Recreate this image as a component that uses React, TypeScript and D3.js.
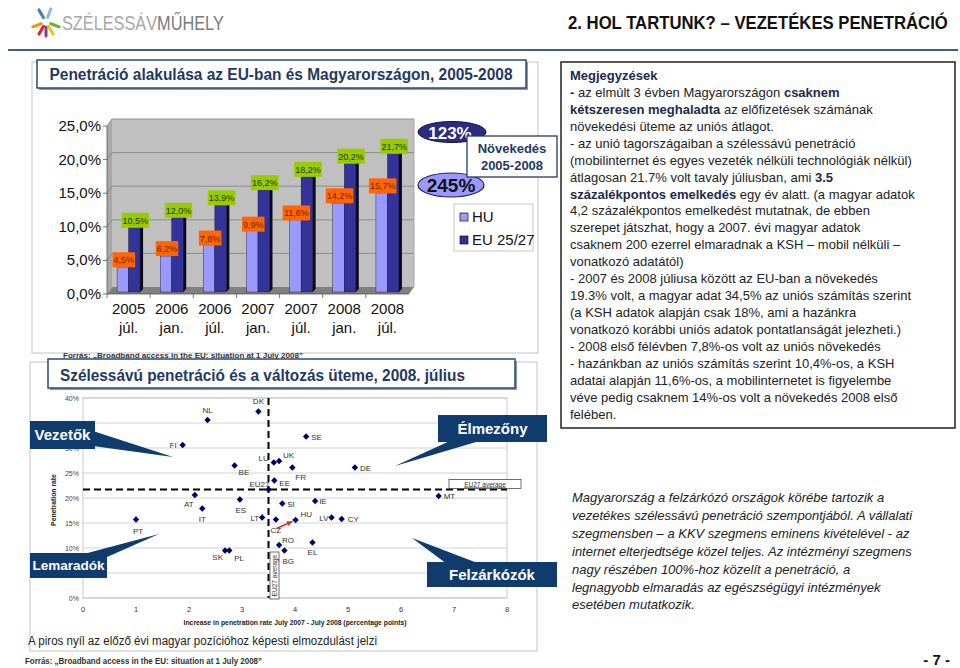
import * as d3 from "d3";

const FONT = "'Liberation Sans', Arial, Helvetica, sans-serif";
const NARROW = "'Liberation Sans Narrow', 'Arial Narrow', 'Liberation Sans', Arial, sans-serif";
const NAVY = "#0f3c6c";

// --- upper chart: penetration HU vs EU 2005-2008 ---
const PERIODS = ["2005 júl.", "2006 jan.", "2006 júl.", "2007 jan.", "2007 júl.", "2008 jan.", "2008 júl."];
const HU_RATE = [4.5, 6.2, 7.8, 9.9, 11.6, 14.2, 15.7];
const EU_RATE = [10.5, 12.0, 13.9, 16.2, 18.2, 20.2, 21.7];
const RATE_TICKS = [0, 5, 10, 15, 20, 25];
const GROWTH_EU = "123%";
const GROWTH_HU = "245%";
const SERIES = ["HU", "EU 25/27"];

// --- scatter: penetration July 2008 vs increase July 2007 - July 2008 ---
const COUNTRIES = ["DK", "NL", "FI", "LU", "UK", "BE", "FR", "EE", "EU27", "SE", "DE", "MT", "IE", "SI", "AT", "ES", "IT", "PT", "LT", "CZ", "HU", "RO", "BG", "SK", "PL", "LV", "CY", "EL"];
const INCREASE = [3.31, 2.35, 1.88, 3.6, 3.7, 2.86, 3.95, 3.61, 3.5, 4.21, 5.13, 6.71, 4.38, 3.76, 2.11, 2.96, 2.25, 1.0, 3.38, 3.64, 4.01, 3.7, 3.8, 2.68, 2.76, 4.69, 4.88, 4.33];
const PENETRATION = [37.3, 35.6, 30.6, 27.1, 27.4, 26.5, 26.1, 23.5, 21.7, 32.3, 26.1, 20.4, 19.4, 18.9, 20.6, 19.7, 17.9, 15.7, 16.1, 15.7, 15.6, 10.6, 9.5, 9.5, 9.5, 16.1, 15.8, 11.1];
const HU_PREVIOUS = [3.65, 13.9]; // tail of the red arrow
const EU27_INCREASE = 3.5;
const EU27_PENETRATION = 21.7;
const INCREASE_TICKS = [0, 1, 2, 3, 4, 5, 6, 7, 8];
const PENETRATION_TICKS = [0, 5, 10, 15, 20, 25, 30, 35, 40];
const HIDDEN_TICKS = [5, 35]; // covered by the callout boxes

// label placement next to each point: dx, dy, anchor
const LABEL_PLACE: Record<string, [number, number, string]> = {
  DK: [0, -8, "middle"], NL: [0, -7, "middle"], FI: [-6, 3, "end"], LU: [-5, -2, "end"],
  UK: [4, -3, "start"], BE: [4, 9, "start"], FR: [3, 12, "start"], EE: [5, 5, "start"],
  EU27: [1, -3, "end"], SE: [5, 3, "start"], DE: [5, 3, "start"], MT: [5, 3, "start"],
  IE: [4, 3, "start"], SI: [5, 3, "start"], AT: [-6, 12, "middle"], ES: [1, 13, "middle"],
  IT: [0, 13, "middle"], PT: [2, 14, "middle"], LT: [-3, 3, "end"], CZ: [0, 13, "middle"],
  HU: [5, -3, "start"], RO: [3, -2, "start"], BG: [-2, 13, "start"], SK: [-2, 9, "end"],
  PL: [5, 10, "start"], LV: [-3, 3, "end"], CY: [6, 3, "start"], EL: [0, 12, "middle"],
};

// --- notes on the right ---
const NOTES: [string, boolean][][] = [
  [["Megjegyzések", true]],
  [["-", true], [" az elmúlt 3 évben Magyarországon ", false], ["csaknem", true]],
  [["kétszeresen meghaladta", true], [" az előfizetések számának", false]],
  [["növekedési üteme az uniós átlagot.", false]],
  [["- az unió tagországaiban a szélessávú penetráció", false]],
  [["(mobilinternet és egyes vezeték nélküli technológiák nélkül)", false]],
  [["átlagosan 21.7% volt tavaly júliusban, ami ", false], ["3.5", true]],
  [["százalékpontos emelkedés", true], [" egy év alatt. (a magyar adatok", false]],
  [["4,2 százalékpontos emelkedést mutatnak, de ebben", false]],
  [["szerepet játszhat, hogy a 2007. évi magyar adatok", false]],
  [["csaknem 200 ezerrel elmaradnak a KSH – mobil nélküli –", false]],
  [["vonatkozó adatától)", false]],
  [["- 2007 és 2008 júliusa között az EU-ban a növekedés", false]],
  [["19.3% volt, a magyar adat 34,5% az uniós számítás szerint", false]],
  [["(a KSH adatok alapján csak 18%, ami a hazánkra", false]],
  [["vonatkozó korábbi uniós adatok pontatlanságát jelezheti.)", false]],
  [["- 2008 első félévben 7,8%-os volt az uniós növekedés", false]],
  [["- hazánkban az uniós számítás szerint 10,4%-os, a KSH", false]],
  [["adatai alapján 11,6%-os, a mobilinternetet is figyelembe", false]],
  [["véve pedig csaknem 14%-os volt a növekedés 2008 első", false]],
  [["felében.", false]],
];

const SUMMARY = [
  "Magyarország a felzárkózó országok körébe tartozik a",
  "vezetékes szélessávú penetráció szempontjából. A vállalati",
  "szegmensben – a KKV szegmens eminens kivételével - az",
  "internet elterjedtsége közel teljes. Az intézményi szegmens",
  "nagy részében 100%-hoz közelít a penetráció, a",
  "legnagyobb elmaradás az egészségügyi intézmények",
  "esetében mutatkozik.",
];

const SOURCE = "Forrás: „Broadband access in the EU: situation at 1 July 2008”";

const pct = (v: number) => v.toFixed(1).replace(".", ",") + "%";
const labelWidth = (s: string, fs: number) =>
  s.split("").reduce((a, ch) => a + (ch === "," ? 0.278 : ch === "%" ? 0.889 : 0.556), 0) * fs;

const Header = () => {
  const sticks = [
    { a: -120, c: "#3f7cc4" },
    { a: -70, c: "#8ab8e6" },
    { a: 160, c: "#f39200" },
    { a: 120, c: "#e2231a" },
    { a: 90, c: "#7b3f99" },
    { a: 60, c: "#f5c400" },
    { a: 20, c: "#66b032" },
  ];
  return (
    <g>
      <g transform="translate(46,22)">
        {sticks.map((s, i) => {
          const r = (s.a * Math.PI) / 180;
          return (
            <line key={i} x1={Math.cos(r) * 5} y1={Math.sin(r) * 5} x2={Math.cos(r) * 14} y2={Math.sin(r) * 14}
              stroke={s.c} strokeWidth={3} strokeLinecap="round" />
          );
        })}
      </g>
      {/* condensed lettering: scale the regular face horizontally */}
      <g transform="translate(62,30) scale(0.815,1)">
        <text x={0} y={0} fontFamily={FONT} fontSize={20}>
          <tspan fill="#a8a8a8">SZÉLESSÁV</tspan>
          <tspan fill="#7a7a7a">MŰHELY</tspan>
        </text>
      </g>
      <g transform="translate(568,29) scale(0.88,1)">
        <text x={0} y={0} fontFamily={FONT} fontSize={19} fontWeight="bold" fill="#111">
          2. HOL TARTUNK? – VEZETÉKES PENETRÁCIÓ
        </text>
      </g>
      <line x1={8} x2={958} y1={50} y2={50} stroke="#3d6186" strokeWidth={2} />
    </g>
  );
};

const BarChart = () => {
  const x = d3.scaleBand<string>().domain(PERIODS).range([107, 409]);
  const yFront = d3.scaleLinear().domain([0, 25]).range([294, 126]);
  const yBack = d3.scaleLinear().domain([0, 25]).range([287, 119]);
  const yBar = d3.scaleLinear().domain([0, 25]).range([297, 132]);
  const [xl, xr] = x.range();
  const DX = 5;
  const BAR_W = 11.5;
  const BAR_D = 3;
  const BASE = 292;

  const bar = (left: number, v: number, face: string, top: string, side: string) => {
    const yt = yBar(v);
    const r = left + BAR_W;
    return (
      <g>
        <rect x={left} y={yt} width={BAR_W} height={BASE - yt} fill={face} stroke="#111133" strokeWidth={0.4} />
        <polygon points={`${left},${yt} ${left + BAR_D},${yt - BAR_D} ${r + BAR_D},${yt - BAR_D} ${r},${yt}`} fill={top} />
        <polygon points={`${r},${yt} ${r + BAR_D},${yt - BAR_D} ${r + BAR_D},${BASE - BAR_D} ${r},${BASE}`} fill={side} />
      </g>
    );
  };

  const valueLabel = (cx: number, v: number, bg: string, fg: string) => {
    const s = pct(v);
    const w = labelWidth(s, 9) + 2;
    const yb = yBar(v);
    return (
      <g>
        <rect x={cx - w / 2} y={yb - 15} width={w} height={15} fill={bg} />
        <text x={cx} y={yb - 4} textAnchor="middle" fontSize={9} fontFamily={FONT} fill={fg}>{s}</text>
      </g>
    );
  };

  return (
    <g fontFamily={FONT}>
      {/* walls and floor */}
      <rect x={xl + DX} y={yBack(25)} width={xr - xl} height={yBack(0) - yBack(25)} fill="#c0c0c0" />
      <polygon points={`${xl},${yFront(0)} ${xl + DX},${yBack(0)} ${xl + DX},${yBack(25)} ${xl},${yFront(25)}`} fill="#a8a8a8" />
      {RATE_TICKS.slice(1).map((t) => (
        <g key={t}>
          <line x1={xl + DX} x2={xr + DX} y1={yBack(t)} y2={yBack(t)} stroke="#7f7f7f" strokeWidth={0.8} />
          <line x1={xl} x2={xl + DX} y1={yFront(t)} y2={yBack(t)} stroke="#7f7f7f" strokeWidth={0.8} />
        </g>
      ))}
      <line x1={xr + DX} x2={xr + DX} y1={yBack(25)} y2={yBack(0)} stroke="#9a9a9a" strokeWidth={0.8} />
      <polygon points={`${xl},${yFront(0)} ${xr},${yFront(0)} ${xr + DX},${yBack(0)} ${xl + DX},${yBack(0)}`} fill="#808080" />

      {/* bars */}
      {PERIODS.map((p, i) => {
        const c = (x(p) as number) + x.bandwidth() / 2;
        return (
          <g key={p}>
            {bar(c - BAR_W, HU_RATE[i], "#9999ff", "#b3b3ff", "#5050a0")}
            {bar(c, EU_RATE[i], "#333399", "#4848b0", "#0a0a1e")}
          </g>
        );
      })}
      {PERIODS.map((p, i) => {
        const c = (x(p) as number) + x.bandwidth() / 2;
        return (
          <g key={p}>
            {valueLabel(c - BAR_W / 2 + 1, HU_RATE[i], "#ff6600", "#6e2200")}
            {valueLabel(c + BAR_W / 2 + 1, EU_RATE[i], "#99cc00", "#263300")}
          </g>
        );
      })}

      {/* axes */}
      <line x1={xl} x2={xl} y1={yFront(25)} y2={yFront(0)} stroke="#555" strokeWidth={0.8} />
      <line x1={xl} x2={xr} y1={yFront(0)} y2={yFront(0)} stroke="#555" strokeWidth={0.8} />
      {RATE_TICKS.map((t) => (
        <g key={t}>
          <line x1={xl - 4} x2={xl} y1={yFront(t)} y2={yFront(t)} stroke="#555" strokeWidth={0.8} />
          <text x={xl - 6} y={yFront(t) + 5} textAnchor="end" fontSize={15} fill="#111">{pct(t)}</text>
        </g>
      ))}
      {PERIODS.map((p) => {
        const c = (x(p) as number) + x.bandwidth() / 2;
        const [yr, mo] = p.split(" ");
        return (
          <g key={p}>
            <line x1={x(p) as number} x2={x(p) as number} y1={yFront(0)} y2={yFront(0) + 4} stroke="#555" strokeWidth={0.8} />
            <text x={c} y={314} textAnchor="middle" fontSize={15} fill="#111">{yr}</text>
            <text x={c} y={333} textAnchor="middle" fontSize={15} fill="#111">{mo}</text>
          </g>
        );
      })}

      {/* growth ellipses */}
      <ellipse cx={452} cy={132} rx={34} ry={10.5} fill="#2b2b80" stroke="#111144" strokeWidth={1} />
      <text x={450} y={138.5} textAnchor="middle" fontSize={17} fontWeight="bold" fill="#fff">{GROWTH_EU}</text>
      <ellipse cx={451} cy={185} rx={33} ry={12} fill="#9999ff" stroke="#222255" strokeWidth={1.2} />
      <text x={451} y={192} textAnchor="middle" fontSize={19} fontWeight="bold" fill="#111">{GROWTH_HU}</text>
      <rect x={467} y={136} width={90} height={41} fill="#fff" stroke="#1f3864" strokeWidth={1.3} />
      <text x={512} y={153} textAnchor="middle" fontSize={13} fontWeight="bold" fill="#1f3864">Növekedés</text>
      <text x={512} y={170} textAnchor="middle" fontSize={13} fontWeight="bold" fill="#1f3864">2005-2008</text>

      {/* legend */}
      <rect x={454} y={204} width={79} height={47} fill="#fff" stroke="#c8c8c8" strokeWidth={1} />
      {SERIES.map((s, i) => (
        <g key={s}>
          <rect x={460} y={213 + i * 23} width={8} height={8} fill={i === 0 ? "#9999ff" : "#333399"} stroke="#111" strokeWidth={0.7} />
          <text x={472} y={222 + i * 23} fontSize={15} fill="#111">{s}</text>
        </g>
      ))}
    </g>
  );
};

const Callout = ({ x, y, w, h, label, tail, fs = 15 }: { x: number; y: number; w: number; h: number; label: string; tail: number[][]; fs?: number }) => (
  <g>
    <polygon points={tail.map((p) => p.join(",")).join(" ")} fill={NAVY} />
    <rect x={x} y={y} width={w} height={h} fill={NAVY} />
    <text x={x + w / 2} y={y + h / 2 + fs * 0.36} textAnchor="middle" fontSize={fs} fontWeight="bold" fill="#fff" fontFamily={FONT}>{label}</text>
  </g>
);

const Scatter = () => {
  const xS = d3.scaleLinear().domain([0, 8]).range([83, 507]);
  const yS = d3.scaleLinear().domain([0, 40]).range([598, 398]);
  const diamond = (cx: number, cy: number) => `${cx},${cy - 3.2} ${cx + 3.2},${cy} ${cx},${cy + 3.2} ${cx - 3.2},${cy}`;
  const hx = xS(INCREASE[COUNTRIES.indexOf("HU")]);
  const hy = yS(PENETRATION[COUNTRIES.indexOf("HU")]);
  const px = xS(HU_PREVIOUS[0]);
  const py = yS(HU_PREVIOUS[1]);
  const ang = Math.atan2(hy - py, hx - px);
  const tipX = hx - Math.cos(ang) * 3.5;
  const tipY = hy - Math.sin(ang) * 3.5;
  const head = [
    [tipX, tipY],
    [tipX - Math.cos(ang - 0.45) * 6, tipY - Math.sin(ang - 0.45) * 6],
    [tipX - Math.cos(ang + 0.45) * 6, tipY - Math.sin(ang + 0.45) * 6],
  ];
  const vx = xS(EU27_INCREASE);
  const hyAvg = yS(EU27_PENETRATION);

  return (
    <g fontFamily={FONT}>
      {PENETRATION_TICKS.map((t) => (
        <g key={t}>
          <line x1={xS(0)} x2={xS(8)} y1={yS(t)} y2={yS(t)} stroke="#c8c8c8" strokeWidth={0.8} />
          {!HIDDEN_TICKS.includes(t) && (
            <text x={xS(0) - 4} y={yS(t) + 2.5} textAnchor="end" fontSize={7} fill="#444">{t}%</text>
          )}
        </g>
      ))}
      <rect x={xS(0)} y={yS(40)} width={xS(8) - xS(0)} height={yS(0) - yS(40)} fill="none" stroke="#bdbdbd" strokeWidth={0.8} />
      {INCREASE_TICKS.map((t) => (
        <text key={t} x={xS(t)} y={612} textAnchor="middle" fontSize={7.5} fill="#333">{t}</text>
      ))}
      <text x={295} y={625} textAnchor="middle" fontSize={6.8} fontWeight="bold" fill="#222">
        Increase in penetration rate July 2007 - July 2008 (percentage points)
      </text>
      <text transform="translate(56,500) rotate(-90)" textAnchor="middle" fontSize={6.8} fontWeight="bold" fill="#222">
        Penetration rate
      </text>

      {/* EU27 averages */}
      <line x1={vx} x2={vx} y1={yS(40)} y2={yS(0)} stroke="#000" strokeWidth={2} strokeDasharray="7 4" />
      <line x1={xS(0)} x2={xS(8)} y1={hyAvg} y2={hyAvg} stroke="#000" strokeWidth={2} strokeDasharray="7 4" />
      <rect x={vx + 1.5} y={552} width={9} height={47} fill="#fff" stroke="#333" strokeWidth={0.7} />
      <text transform={`translate(${vx + 8.5},575.5) rotate(-90)`} textAnchor="middle" fontSize={6.5} fill="#333">EU27 average</text>
      <rect x={449} y={hyAvg - 10} width={72} height={9} fill="#fff" stroke="#333" strokeWidth={0.7} />
      <text x={485} y={hyAvg - 3} textAnchor="middle" fontSize={6.5} fill="#333" textDecoration="underline">EU27 average</text>

      {/* red arrow: previous HU position */}
      <line x1={px} y1={py} x2={tipX} y2={tipY} stroke="#e02828" strokeWidth={1.4} />
      <polygon points={head.map((p) => p.join(",")).join(" ")} fill="#e02828" />

      {COUNTRIES.map((c, i) => {
        const cx = xS(INCREASE[i]);
        const cy = yS(PENETRATION[i]);
        const [dx, dy, anchor] = LABEL_PLACE[c];
        return (
          <g key={c}>
            <polygon points={diamond(cx, cy)} fill="#000066" />
            <text x={cx + dx} y={cy + dy} textAnchor={anchor as any} fontSize={8} fill="#333">{c}</text>
          </g>
        );
      })}
    </g>
  );
};

const App = () => {
  return (
    <svg width={960} height={668} style={{ position: "absolute", left: 0, top: 0, background: "#fff" }}>
      <rect width={960} height={668} fill="#fff" />
      <Header />

      {/* upper panel */}
      <rect x={32} y={62} width={506} height={291} fill="#fff" stroke="#c4c4c4" strokeWidth={1} />
      <BarChart />
      <rect x={39} y={62} width={489} height={28} fill="#8a9bb0" />
      <rect x={37} y={60} width={489} height={28} fill="#fff" stroke="#2c4a6b" strokeWidth={1.5} />
      <text x={281} y={80} textAnchor="middle" fontFamily={FONT} fontSize={16} fontWeight="bold" fill="#1f3a60"
        textLength={463} lengthAdjust="spacingAndGlyphs">
        Penetráció alakulása az EU-ban és Magyarországon, 2005-2008
      </text>

      {/* lower panel */}
      <rect x={30} y={362} width={507} height={289} fill="#fff" stroke="#c4c4c4" strokeWidth={1} />
      <text x={63} y={358} fontFamily={FONT} fontSize={8} fontWeight="bold" fill="#333" textLength={240} lengthAdjust="spacingAndGlyphs">
        {SOURCE}
      </text>
      <rect x={50} y={361} width={467} height={29} fill="#8a9bb0" />
      <rect x={48} y={359} width={467} height={29} fill="#fff" stroke="#2c4a6b" strokeWidth={1.5} />
      <text x={60} y={381} fontFamily={FONT} fontSize={17} fontWeight="bold" fill="#1f3a60" textLength={405} lengthAdjust="spacingAndGlyphs">
        Szélessávú penetráció és a változás üteme, 2008. július
      </text>
      <Scatter />
      <Callout x={30} y={421} w={65} h={28} label="Vezetők" tail={[[93, 431], [173, 457], [93, 446]]} />
      <Callout x={30} y={553} w={77} h={25} label="Lemaradók" fs={13.5} tail={[[80, 555], [159, 534], [107, 557]]} />
      <Callout x={438} y={415} w={109} h={27} label="Élmezőny" tail={[[452, 440], [395, 466], [483, 440]]} />
      <Callout x={427} y={562} w={130} h={25} label="Felzárkózók" tail={[[447, 564], [412, 538], [480, 564]]} />
      <text x={28} y={645} fontFamily={NARROW} fontSize={12.5} fill="#222" textLength={349} lengthAdjust="spacingAndGlyphs">
        A piros nyíl az előző évi magyar pozícióhoz képesti elmozdulást jelzi
      </text>

      {/* footer */}
      <text x={25} y={664} fontFamily={NARROW} fontSize={8.5} fontWeight="bold" fill="#333" textLength={237} lengthAdjust="spacingAndGlyphs">
        {SOURCE}
      </text>
      <text x={950} y={665} textAnchor="end" fontFamily={FONT} fontSize={15} fontWeight="bold" fill="#111">- 7 -</text>

      {/* notes box */}
      <rect x={561} y={62} width={394} height={366} fill="#fff" stroke="#222" strokeWidth={1.5} />
      <g fontFamily={FONT} fontSize={13}>
        {NOTES.map((line, i) => (
          <text key={i} x={570} y={80 + i * 16.93}>
            {line.map(([s, b], j) => (
              <tspan key={j} fontWeight={b ? "bold" : "normal"} fill={b ? "#1c2a4a" : "#222"}>{s}</tspan>
            ))}
          </text>
        ))}
      </g>
      <g fontFamily={FONT} fontSize={13} fontStyle="italic" fill="#222">
        {SUMMARY.map((s, i) => (
          <text key={i} x={572} y={502 + i * 17.9}>{s}</text>
        ))}
      </g>
    </svg>
  );
};

export default App;
